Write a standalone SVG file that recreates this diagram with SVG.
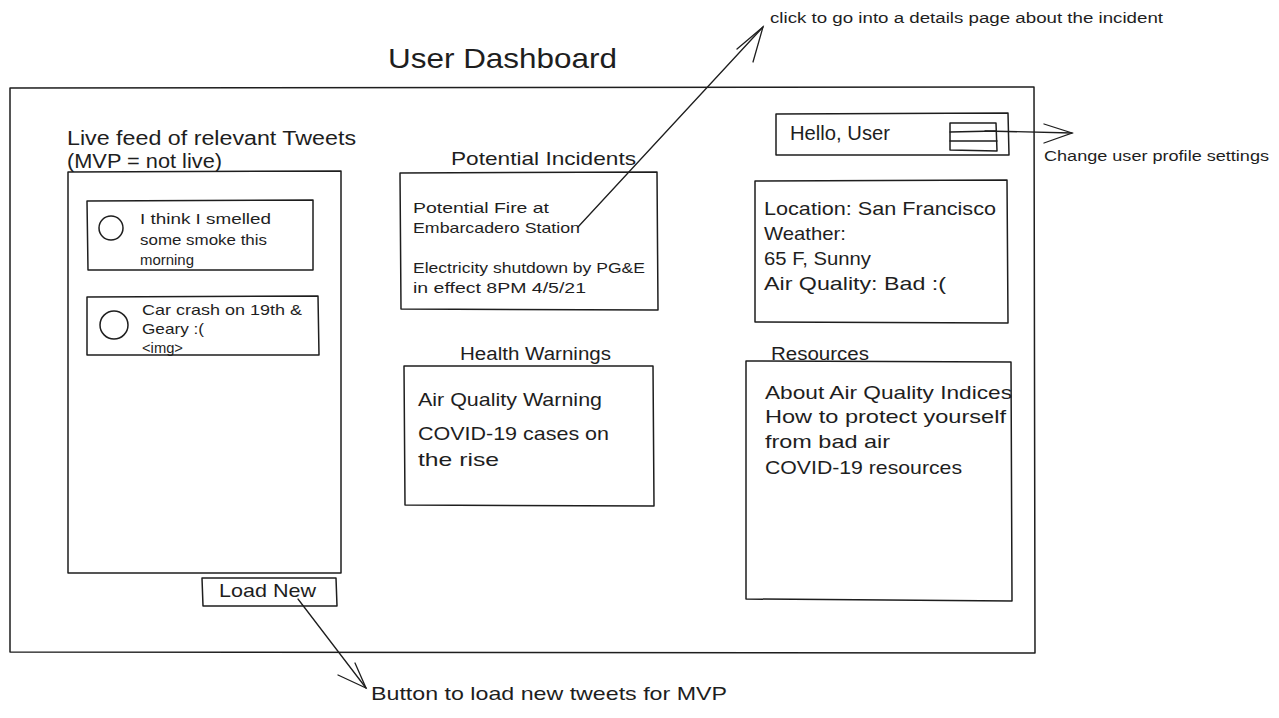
<svg xmlns="http://www.w3.org/2000/svg" width="1279" height="718" viewBox="0 0 1279 718">
<defs>
<style>
.box{fill:none;stroke:#1e1e1e;stroke-width:1.5;stroke-linejoin:round}
.ln{fill:none;stroke:#1e1e1e;stroke-width:1.3;stroke-linecap:round}
text{font-family:"Liberation Sans","DejaVu Sans",sans-serif;fill:#1e1e1e}
.s14{font-size:14px}
.s15{font-size:15px}
.s18{font-size:18px}
.s19{font-size:19px}
.s20{font-size:20px}
.s28{font-size:28px}
</style>
</defs>
<rect width="1279" height="718" fill="#ffffff"/>

<g id="title">
<text class="s28" x="388" y="68" textLength="229" lengthAdjust="spacingAndGlyphs">User Dashboard</text>
</g>

<g id="frame">
<path class="box" d="M10 88 L1034 87 L1035 653 L10 652 Z"/>
</g>

<g id="feed-label">
<text class="s20" x="67" y="145" textLength="289" lengthAdjust="spacingAndGlyphs">Live feed of relevant Tweets</text>
<text class="s20" x="67" y="168" textLength="155" lengthAdjust="spacingAndGlyphs">(MVP = not live)</text>
</g>

<g id="feed">
<path class="box" d="M68 172 L341 171 L341 573 L68 573 Z"/>
</g>

<g id="tweet1">
<path class="box" d="M87 201 L313 200 L313 270 L88 270 Z"/>
<circle class="box" cx="111" cy="228" r="12"/>
<text class="s15" x="140" y="224" textLength="131" lengthAdjust="spacingAndGlyphs">I think I smelled</text>
<text class="s15" x="140" y="245" textLength="127" lengthAdjust="spacingAndGlyphs">some smoke this</text>
<text class="s15" x="140" y="265" textLength="54" lengthAdjust="spacingAndGlyphs">morning</text>
</g>

<g id="tweet2">
<path class="box" d="M87 297 L318 296 L319 355 L87 355 Z"/>
<circle class="box" cx="114" cy="325" r="14"/>
<text class="s15" x="142" y="315" textLength="160" lengthAdjust="spacingAndGlyphs">Car crash on 19th &amp;</text>
<text class="s15" x="142" y="334" textLength="62" lengthAdjust="spacingAndGlyphs">Geary :(</text>
<text class="s15" x="142" y="353" textLength="41" lengthAdjust="spacingAndGlyphs">&lt;img&gt;</text>
</g>

<g id="load-new">
<path class="box" d="M202 578 L336 578 L337 606 L203 606 Z"/>
<text class="s19" x="219" y="597" textLength="97" lengthAdjust="spacingAndGlyphs">Load New</text>
</g>

<g id="load-note">
<text class="s19" x="371" y="700" textLength="356" lengthAdjust="spacingAndGlyphs">Button to load new tweets for MVP</text>
</g>

<g id="incidents">
<text class="s19" x="451" y="165" textLength="185" lengthAdjust="spacingAndGlyphs">Potential Incidents</text>
<path class="box" d="M400 173 L657 172 L658 310 L401 309 Z"/>
<text class="s15" x="413" y="213" textLength="136" lengthAdjust="spacingAndGlyphs">Potential Fire at</text>
<text class="s15" x="413" y="233" textLength="167" lengthAdjust="spacingAndGlyphs">Embarcadero Station</text>
<text class="s15" x="413" y="273" textLength="232" lengthAdjust="spacingAndGlyphs">Electricity shutdown by PG&amp;E</text>
<text class="s15" x="413" y="293" textLength="173" lengthAdjust="spacingAndGlyphs">in effect 8PM 4/5/21</text>
</g>

<g id="incident-note">
<text class="s14" x="770" y="23" textLength="393" lengthAdjust="spacingAndGlyphs">click to go into a details page about the incident</text>
</g>

<g id="health">
<text class="s18" x="460" y="360" textLength="151" lengthAdjust="spacingAndGlyphs">Health Warnings</text>
<path class="box" d="M404 366 L653 366 L654 506 L405 505 Z"/>
<text class="s19" x="418" y="406" textLength="184" lengthAdjust="spacingAndGlyphs">Air Quality Warning</text>
<text class="s19" x="418" y="440" textLength="191" lengthAdjust="spacingAndGlyphs">COVID-19 cases on</text>
<text class="s19" x="418" y="466" textLength="81" lengthAdjust="spacingAndGlyphs">the rise</text>
</g>

<g id="hello">
<path class="box" d="M776 114 L1008 113 L1009 155 L776 155 Z"/>
<text class="s20" x="790" y="140" textLength="100" lengthAdjust="spacingAndGlyphs">Hello, User</text>
<path class="box" d="M950 123 L996 123 L997 151 L950 150 Z"/>
<path class="ln" d="M950 132 L996 131 M950 141 L997 141"/>
</g>

<g id="profile-note">
<text class="s14" x="1044" y="161" textLength="225" lengthAdjust="spacingAndGlyphs">Change user profile settings</text>
</g>

<g id="location">
<path class="box" d="M755 181 L1007 180 L1008 323 L755 322 Z"/>
<text class="s19" x="764" y="215" textLength="232" lengthAdjust="spacingAndGlyphs">Location: San Francisco</text>
<text class="s19" x="764" y="240" textLength="82" lengthAdjust="spacingAndGlyphs">Weather:</text>
<text class="s19" x="764" y="265" textLength="107" lengthAdjust="spacingAndGlyphs">65 F, Sunny</text>
<text class="s19" x="764" y="290" textLength="182" lengthAdjust="spacingAndGlyphs">Air Quality: Bad :(</text>
</g>

<g id="resources">
<text class="s18" x="771" y="360" textLength="98" lengthAdjust="spacingAndGlyphs">Resources</text>
<path class="box" d="M746 361 L1011 362 L1012 601 L746 599 Z"/>
<text class="s19" x="765" y="399" textLength="247" lengthAdjust="spacingAndGlyphs">About Air Quality Indices</text>
<text class="s19" x="765" y="423" textLength="241" lengthAdjust="spacingAndGlyphs">How to protect yourself</text>
<text class="s19" x="765" y="448" textLength="125" lengthAdjust="spacingAndGlyphs">from bad air</text>
<text class="s19" x="765" y="474" textLength="197" lengthAdjust="spacingAndGlyphs">COVID-19 resources</text>
</g>

<g id="connectors">
<path class="ln" d="M578 227 L763 27"/>
<path class="ln" d="M737 49 L763 27 L753 62"/>
<path class="ln" d="M985 131 L1072 133"/>
<path class="ln" d="M1044 124 L1072 133 L1044 143"/>
<path class="ln" d="M298 599 L366 688"/>
<path class="ln" d="M338 675 L366 688 L355 663"/>
</g>
</svg>
